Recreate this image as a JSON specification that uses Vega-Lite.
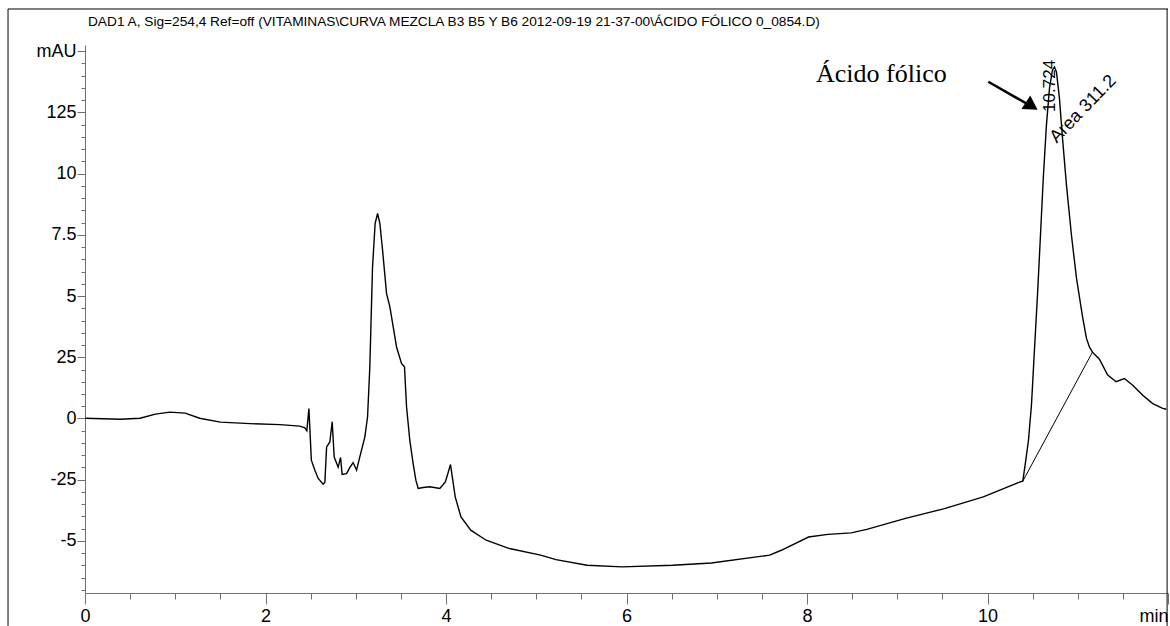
{
  "$schema": "https://vega.github.io/schema/vega-lite/v6.json",
  "width": 1083,
  "height": 548,
  "autosize": {"type": "none"},
  "padding": {"left": 85, "top": 45, "right": 2, "bottom": 33},
  "background": "white",
  "view": {"stroke": null},
  "datasets": {
    "trace": [
      {"t": 0, "mAU": 0.01}, {"t": 0.39, "mAU": -0.03}, {"t": 0.61, "mAU": 0.01}, {"t": 0.78, "mAU": 0.18},
      {"t": 0.94, "mAU": 0.26}, {"t": 1.11, "mAU": 0.22}, {"t": 1.27, "mAU": 0.01}, {"t": 1.5, "mAU": -0.15},
      {"t": 1.83, "mAU": -0.21}, {"t": 2.16, "mAU": -0.25}, {"t": 2.38, "mAU": -0.31}, {"t": 2.436, "mAU": -0.38},
      {"t": 2.458, "mAU": -0.5}, {"t": 2.481, "mAU": 0.41}, {"t": 2.508, "mAU": -1.7}, {"t": 2.547, "mAU": -2.11},
      {"t": 2.584, "mAU": -2.45}, {"t": 2.639, "mAU": -2.68}, {"t": 2.658, "mAU": -2.6}, {"t": 2.677, "mAU": -1.16},
      {"t": 2.713, "mAU": -0.96}, {"t": 2.739, "mAU": -0.13}, {"t": 2.761, "mAU": -1.57}, {"t": 2.805, "mAU": -1.99},
      {"t": 2.832, "mAU": -1.59}, {"t": 2.849, "mAU": -2.28}, {"t": 2.898, "mAU": -2.25}, {"t": 2.935, "mAU": -2.0},
      {"t": 2.971, "mAU": -1.8}, {"t": 3.009, "mAU": -2.11}, {"t": 3.045, "mAU": -1.57}, {"t": 3.101, "mAU": -0.75},
      {"t": 3.131, "mAU": 0.07}, {"t": 3.156, "mAU": 2.11}, {"t": 3.186, "mAU": 6.19}, {"t": 3.215, "mAU": 7.97},
      {"t": 3.242, "mAU": 8.37}, {"t": 3.267, "mAU": 7.97}, {"t": 3.297, "mAU": 6.88}, {"t": 3.341, "mAU": 5.11},
      {"t": 3.378, "mAU": 4.56}, {"t": 3.415, "mAU": 3.74}, {"t": 3.452, "mAU": 2.92}, {"t": 3.507, "mAU": 2.25},
      {"t": 3.54, "mAU": 2.11}, {"t": 3.563, "mAU": 0.47}, {"t": 3.599, "mAU": -0.89}, {"t": 3.636, "mAU": -1.84},
      {"t": 3.666, "mAU": -2.52}, {"t": 3.692, "mAU": -2.86}, {"t": 3.747, "mAU": -2.82}, {"t": 3.821, "mAU": -2.79},
      {"t": 3.931, "mAU": -2.86}, {"t": 3.993, "mAU": -2.59}, {"t": 4.05, "mAU": -1.88}, {"t": 4.102, "mAU": -3.2},
      {"t": 4.166, "mAU": -4.02}, {"t": 4.274, "mAU": -4.56}, {"t": 4.445, "mAU": -4.97}, {"t": 4.703, "mAU": -5.31},
      {"t": 5.048, "mAU": -5.58}, {"t": 5.219, "mAU": -5.76}, {"t": 5.564, "mAU": -5.99}, {"t": 5.951, "mAU": -6.06},
      {"t": 6.511, "mAU": -5.99}, {"t": 6.94, "mAU": -5.9}, {"t": 7.586, "mAU": -5.58}, {"t": 7.715, "mAU": -5.38},
      {"t": 8.017, "mAU": -4.84}, {"t": 8.231, "mAU": -4.73}, {"t": 8.49, "mAU": -4.67}, {"t": 8.662, "mAU": -4.53},
      {"t": 9.092, "mAU": -4.08}, {"t": 9.523, "mAU": -3.68}, {"t": 9.953, "mAU": -3.2}, {"t": 10.362, "mAU": -2.59},
      {"t": 10.391, "mAU": -2.56}, {"t": 10.421, "mAU": -1.79}, {"t": 10.454, "mAU": -0.89}, {"t": 10.487, "mAU": 0.54},
      {"t": 10.52, "mAU": 2.79}, {"t": 10.554, "mAU": 5.04}, {"t": 10.587, "mAU": 7.49}, {"t": 10.62, "mAU": 9.94},
      {"t": 10.653, "mAU": 11.98}, {"t": 10.687, "mAU": 13.49}, {"t": 10.72, "mAU": 14.23}, {"t": 10.742, "mAU": 14.35},
      {"t": 10.764, "mAU": 14.15}, {"t": 10.797, "mAU": 13.08}, {"t": 10.831, "mAU": 11.45}, {"t": 10.875, "mAU": 9.53},
      {"t": 10.93, "mAU": 7.49}, {"t": 10.986, "mAU": 5.73}, {"t": 11.052, "mAU": 4.18}, {"t": 11.096, "mAU": 3.28},
      {"t": 11.13, "mAU": 2.91}, {"t": 11.163, "mAU": 2.71}, {"t": 11.24, "mAU": 2.42}, {"t": 11.332, "mAU": 1.77},
      {"t": 11.425, "mAU": 1.5}, {"t": 11.517, "mAU": 1.63}, {"t": 11.609, "mAU": 1.36}, {"t": 11.72, "mAU": 0.95},
      {"t": 11.831, "mAU": 0.61}, {"t": 11.941, "mAU": 0.41}, {"t": 11.982, "mAU": 0.38}
    ],
    "baseline": [
      {"t": 10.391, "mAU": -2.56}, {"t": 11.163, "mAU": 2.71}
    ],
    "one": [{"k": 1}]
  },
  "layer": [
    {
      "data": {"name": "trace"},
      "mark": {"type": "line", "color": "black", "strokeWidth": 1.4},
      "encoding": {
        "x": {
          "field": "t", "type": "quantitative",
          "scale": {"domain": [0, 12], "nice": false, "zero": false},
          "axis": {
            "orient": "bottom", "values": [0, 2, 4, 6, 8, 10, 12],
            "labelExpr": "datum.value == 12 ? 'min' : datum.label",
            "labelAlign": {"condition": {"test": "datum.value == 12", "value": "right"}, "value": "center"},
            "tickSize": 11, "labelFlush": false, "labelOverlap": false, "labelBound": false,
            "title": null, "grid": false, "domainColor": "#707070", "tickColor": "#707070",
            "labelPadding": 3, "labelFontSize": 18, "labelFont": "Liberation Sans", "labelColor": "black"
          }
        },
        "y": {
          "field": "mAU", "type": "quantitative",
          "scale": {"domain": [-7.125, 15.25], "nice": false, "zero": false},
          "axis": {
            "orient": "left", "values": [-5, -2.5, 0, 2.5, 5, 7.5, 10, 12.5, 15],
            "labelExpr": "datum.value == 15 ? 'mAU' : datum.value == 12.5 ? '125' : datum.value == 10 ? '10' : datum.value == 7.5 ? '7.5' : datum.value == 5 ? '5' : datum.value == 2.5 ? '25' : datum.value == 0 ? '0' : datum.value == -2.5 ? '-25' : '-5'",
            "tickSize": 8, "labelOverlap": false, "labelBound": false, "labelFlush": false,
            "title": null, "grid": false, "domainColor": "#707070", "tickColor": "#707070",
            "labelPadding": 1, "labelFontSize": 18, "labelFont": "Liberation Sans", "labelColor": "black"
          }
        }
      }
    },
    {
      "data": {"name": "baseline"},
      "mark": {"type": "line", "color": "black", "strokeWidth": 1},
      "encoding": {
        "x": {
          "field": "t", "type": "quantitative",
          "scale": {"domain": [0, 12], "nice": false, "zero": false},
          "axis": {
            "orient": "bottom",
            "values": [0.5, 1, 1.5, 2.5, 3, 3.5, 4.5, 5, 5.5, 6.5, 7, 7.5, 8.5, 9, 9.5, 10.5, 11, 11.5],
            "labels": false, "domain": false, "tickSize": 6, "grid": false, "title": null, "tickColor": "#707070"
          }
        },
        "y": {
          "field": "mAU", "type": "quantitative",
          "scale": {"domain": [-7.125, 15.25], "nice": false, "zero": false},
          "axis": {
            "orient": "left",
            "values": [-7, -6.5, -6, -5.5, -4.5, -4, -3.5, -3, -2, -1.5, -1, -0.5, 0.5, 1, 1.5, 2, 3, 3.5, 4, 4.5, 5.5, 6, 6.5, 7, 8, 8.5, 9, 9.5, 10.5, 11, 11.5, 12, 13, 13.5, 14, 14.5],
            "labels": false, "domain": false, "tickSize": 4, "grid": false, "title": null, "tickColor": "#707070"
          }
        }
      }
    },
    {
      "data": {"name": "one"},
      "mark": {"type": "text", "text": "DAD1 A, Sig=254,4 Ref=off (VITAMINAS\\CURVA MEZCLA B3 B5 Y B6 2012-09-19 21-37-00\\ÁCIDO FÓLICO 0_0854.D)", "font": "Liberation Sans", "fontSize": 13.7, "align": "left", "baseline": "alphabetic", "color": "black"},
      "encoding": {
        "x": {"datum": 0.033, "type": "quantitative", "scale": {"domain": [0, 12], "nice": false, "zero": false}, "axis": null},
        "y": {"datum": 16.03, "type": "quantitative", "scale": {"domain": [-7.125, 15.25], "nice": false, "zero": false}, "axis": null}
      }
    },
    {
      "data": {"name": "one"},
      "mark": {"type": "rule", "color": "black", "strokeWidth": 1},
      "encoding": {
        "x": {"datum": -0.853, "type": "quantitative", "scale": {"domain": [0, 12], "nice": false, "zero": false}, "axis": null},
        "y": {"datum": 16.72, "type": "quantitative", "scale": {"domain": [-7.125, 15.25], "nice": false, "zero": false}, "axis": null},
        "y2": {"datum": -8.47}
      }
    },
    {
      "data": {"name": "one"},
      "mark": {"type": "rule", "color": "black", "strokeWidth": 1},
      "encoding": {
        "x": {"datum": -0.853, "type": "quantitative", "scale": {"domain": [0, 12], "nice": false, "zero": false}, "axis": null},
        "x2": {"datum": 12},
        "y": {"datum": 16.72, "type": "quantitative", "scale": {"domain": [-7.125, 15.25], "nice": false, "zero": false}, "axis": null}
      }
    },
    {
      "data": {"name": "one"},
      "mark": {"type": "rule", "color": "black", "strokeWidth": 1},
      "encoding": {
        "x": {"datum": 11.99, "type": "quantitative", "scale": {"domain": [0, 12], "nice": false, "zero": false}, "axis": null},
        "y": {"datum": 16.72, "type": "quantitative", "scale": {"domain": [-7.125, 15.25], "nice": false, "zero": false}, "axis": null},
        "y2": {"datum": -8.47}
      }
    },
    {
      "data": {"name": "one"},
      "mark": {"type": "text", "text": "Ácido fólico", "font": "Liberation Serif", "fontSize": 26, "align": "left", "baseline": "alphabetic", "color": "black"},
      "encoding": {
        "x": {"datum": 8.1, "type": "quantitative", "scale": {"domain": [0, 12], "nice": false, "zero": false}, "axis": null},
        "y": {"datum": 13.73, "type": "quantitative", "scale": {"domain": [-7.125, 15.25], "nice": false, "zero": false}, "axis": null}
      }
    },
    {
      "data": {"name": "one"},
      "mark": {"type": "rule", "color": "black", "strokeWidth": 2.5},
      "encoding": {
        "x": {"datum": 10.009, "type": "quantitative", "scale": {"domain": [0, 12], "nice": false, "zero": false}, "axis": null},
        "x2": {"datum": 10.47},
        "y": {"datum": 13.75, "type": "quantitative", "scale": {"domain": [-7.125, 15.25], "nice": false, "zero": false}, "axis": null},
        "y2": {"datum": 12.78}
      }
    },
    {
      "data": {"name": "one"},
      "mark": {"type": "point", "shape": "triangle-right", "filled": true, "color": "black", "opacity": 1, "size": 260, "angle": 33},
      "encoding": {
        "x": {"datum": 10.49, "type": "quantitative", "scale": {"domain": [0, 12], "nice": false, "zero": false}, "axis": null},
        "y": {"datum": 12.76, "type": "quantitative", "scale": {"domain": [-7.125, 15.25], "nice": false, "zero": false}, "axis": null}
      }
    },
    {
      "data": {"name": "one"},
      "mark": {"type": "text", "text": "10.724", "font": "Liberation Sans", "fontSize": 17, "align": "center", "baseline": "middle", "angle": 270, "color": "black"},
      "encoding": {
        "x": {"datum": 10.692, "type": "quantitative", "scale": {"domain": [0, 12], "nice": false, "zero": false}, "axis": null},
        "y": {"datum": 13.58, "type": "quantitative", "scale": {"domain": [-7.125, 15.25], "nice": false, "zero": false}, "axis": null}
      }
    },
    {
      "data": {"name": "one"},
      "mark": {"type": "text", "text": "Area 311.2", "font": "Liberation Sans", "fontSize": 18, "align": "center", "baseline": "middle", "angle": 314, "color": "black"},
      "encoding": {
        "x": {"datum": 11.06, "type": "quantitative", "scale": {"domain": [0, 12], "nice": false, "zero": false}, "axis": null},
        "y": {"datum": 12.63, "type": "quantitative", "scale": {"domain": [-7.125, 15.25], "nice": false, "zero": false}, "axis": null}
      }
    }
  ],
  "resolve": {"axis": {"x": "independent", "y": "independent"}}
}
